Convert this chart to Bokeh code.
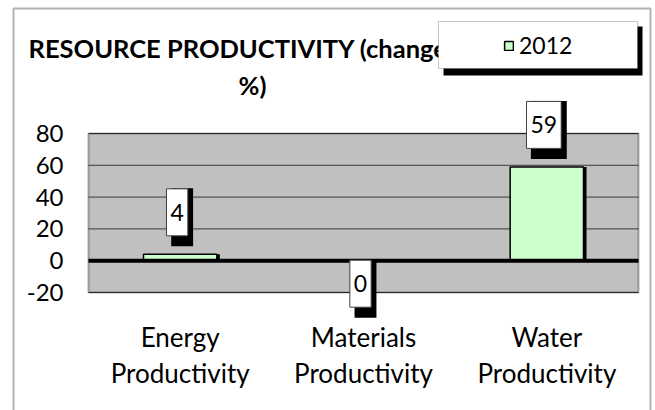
from bokeh.plotting import figure
from bokeh.models import (Range1d, FixedTicker, Label, BoxAnnotation,
                          Legend, LegendItem, ColumnDataSource)
from bokeh.embed import file_html
from bokeh.resources import INLINE

# ---- data ----
categories = ["Energy\nProductivity", "Materials\nProductivity", "Water\nProductivity"]
values_2012 = [4, 0, 59]
series_name = "2012"
y_ticks = [-20, 0, 20, 40, 60, 80]
title_lines = ["RESOURCE PRODUCTIVITY (change", "%)"]

FONT = "Lato"
BAR_FILL = "#CCFFCC"
W, H = 655, 410
# plot-area placement in pixels
PA_L, PA_R, PA_T, PA_B = 88, 638, 133, 292

n = len(categories)
cat_px = (PA_R - PA_L) / n
px_per_unit = (PA_B - PA_T) / (y_ticks[-1] - y_ticks[0])

xpos = [i + 0.5 for i in range(n)]
src = ColumnDataSource(dict(x=xpos, xs=[x + 3 / cat_px for x in xpos], val=values_2012))

p = figure(width=W, height=H,
           x_range=Range1d(-PA_L / cat_px, n + (W - PA_R) / cat_px),
           y_range=Range1d(y_ticks[0] - (H - PA_B) / px_per_unit,
                           y_ticks[-1] + PA_T / px_per_unit),
           output_backend="svg", toolbar_location=None, min_border=0)
p.outline_line_color = None
p.background_fill_color = "white"
p.border_fill_color = "white"
p.xgrid.visible = False
p.ygrid.visible = False

# plot area background
p.add_layout(BoxAnnotation(left=0, right=n, bottom=y_ticks[0], top=y_ticks[-1],
                           fill_color="#C0C0C0", fill_alpha=1, line_color=None, level="image"))
# gridlines
p.segment(x0=0, x1=n, y0=y_ticks, y1=y_ticks, line_color="#3a3a3a", line_width=1)

# bars (shadow + bar)
p.vbar(x="xs", top="val", width=0.4, source=src, fill_color="black", line_color=None)
bars = p.vbar(x="x", top="val", width=0.4, source=src,
              fill_color=BAR_FILL, line_color="black", line_width=1.5)

# zero baseline across the plot area
p.segment(x0=[0], x1=[n], y0=[0], y1=[0], line_color="black", line_width=4)

# axes
p.yaxis.ticker = FixedTicker(ticks=y_ticks)
p.yaxis.major_label_overrides = {t: str(t) for t in y_ticks}
p.yaxis.fixed_location = 0
p.xaxis.ticker = FixedTicker(ticks=xpos)
p.xaxis.major_label_overrides = {x: c for x, c in zip(xpos, categories)}
p.xaxis.fixed_location = y_ticks[0]
for ax in (p.xaxis, p.yaxis):
    ax.axis_line_color = None
    ax.major_tick_line_color = None
    ax.minor_tick_line_color = None
    ax.major_tick_out = 0
    ax.major_tick_in = 0
    ax.major_label_text_font = FONT
    ax.major_label_text_color = "black"
p.yaxis.major_label_text_font_size = "24px"
p.yaxis.major_label_standoff = 25
p.xaxis.major_label_text_font_size = "26px"
p.xaxis.major_label_standoff = 28
p.xaxis.major_label_text_line_height = 1.15

# plot-area border
p.add_layout(BoxAnnotation(left=0, right=n, bottom=y_ticks[0], top=y_ticks[-1],
                           fill_alpha=0, line_color="black", line_width=2))

# title (two lines, partly covered by the legend)
p.add_layout(Label(x=28, y=H - 47, x_units="screen", y_units="screen", text=title_lines[0],
                   text_font=FONT, text_font_style="bold", text_font_size="25.5px",
                   text_color="black", text_baseline="alphabetic", text_align="left"))
p.add_layout(Label(x=252, y=H - 84, x_units="screen", y_units="screen", text=title_lines[1],
                   text_font=FONT, text_font_style="bold", text_font_size="25.5px",
                   text_color="black", text_baseline="alphabetic", text_align="center"))

# legend box with shadow
def sbox(l, r, t, b, **kw):
    return BoxAnnotation(left=l, right=r, top=H - t, bottom=H - b,
                         left_units="screen", right_units="screen",
                         top_units="screen", bottom_units="screen", **kw)

p.add_layout(sbox(443, 642, 26, 75, fill_color="black", fill_alpha=1, line_color=None))
p.add_layout(sbox(438, 637, 21, 68, fill_color="white", fill_alpha=1,
                  line_color="#404040", line_width=1))
legend = Legend(items=[LegendItem(label=series_name, renderers=[bars])],
                location=(503, H - 59), background_fill_alpha=0, border_line_color=None,
                padding=0, margin=0, spacing=0, glyph_width=11, glyph_height=11,
                label_standoff=5, label_text_font=FONT, label_text_font_size="23px",
                label_text_color="black")
p.add_layout(legend)

# value labels with drop shadows
for xc, v in zip(xpos, values_2012):
    t = str(v)
    dy = 42 if v > 0 else -23
    box_w = 8 + 13.3 * len(t)
    ph = int(round((box_w - 5) / 2))
    p.add_layout(Label(x=xc, y=v, x_offset=2, y_offset=dy - 5, text=" ",
                       text_font=FONT, text_font_size="23px",
                       text_align="center", text_baseline="middle",
                       background_fill_color="black", background_fill_alpha=1,
                       padding=dict(left=ph, right=ph, top=15, bottom=15)))
    p.add_layout(Label(x=xc, y=v, x_offset=-3, y_offset=dy, text=t,
                       text_font=FONT, text_font_size="23px", text_color="black",
                       text_align="center", text_baseline="middle",
                       background_fill_color="white", background_fill_alpha=1,
                       border_line_color="#404040", border_line_width=1,
                       padding=dict(left=4, right=4, top=15, bottom=15)))

# outer chart border
p.add_layout(sbox(13, 650, 8, H + 60, fill_alpha=0, line_color="black", line_width=2))

open("out.html", "w").write(file_html(p, INLINE))
